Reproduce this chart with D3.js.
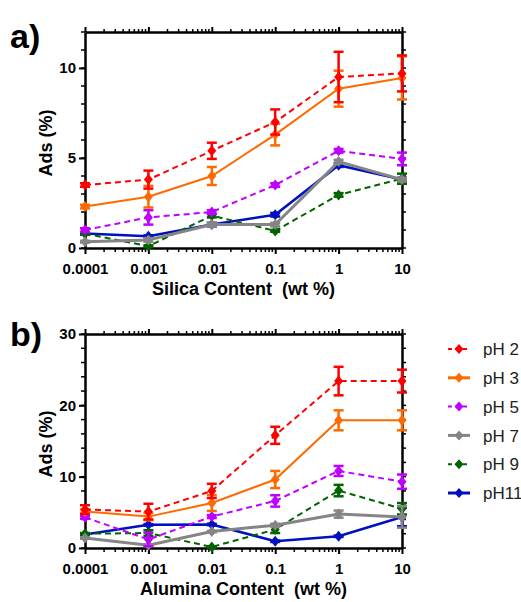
<!DOCTYPE html>
<html>
<head>
<meta charset="utf-8">
<script src="https://cdn.jsdelivr.net/npm/d3@7"></script>
<style>
  body { margin: 0; background: #fff; }
  svg { display: block; font-family: "Liberation Sans", Arial, sans-serif; }
</style>
</head>
<body>
<svg id="chart" width="521" height="602"></svg>
<script>
// concentrations (wt %)
const contents = [0.0001, 0.001, 0.01, 0.1, 1, 10];
const xTickLabels = ["0.0001", "0.001", "0.01", "0.1", "1", "10"];
const seriesNames = ["pH 2", "pH 3", "pH 5", "pH 7", "pH 9", "pH11"];

// panel a) silica
const silicaPH2 = [3.5, 3.8, 5.4, 7.0, 9.5, 9.7];
const silicaPH2Err = [0.1, 0.5, 0.45, 0.7, 1.4, 1.0];
const silicaPH3 = [2.3, 2.85, 4.0, 6.3, 8.85, 9.45];
const silicaPH3Err = [0.1, 0.6, 0.5, 0.6, 1.0, 1.2];
const silicaPH5 = [1.0, 1.7, 2.0, 3.5, 5.4, 4.95];
const silicaPH5Err = [0.1, 0.4, 0.1, 0.1, 0.1, 0.35];
const silicaPH7 = [0.35, 0.45, 1.3, 1.3, 4.8, 3.8];
const silicaPH7Err = [0.05, 0.1, 0.1, 0.1, 0.1, 0.1];
const silicaPH9 = [0.8, 0.1, 1.8, 0.95, 2.95, 3.85];
const silicaPH9Err = [0.05, 0.05, 0.1, 0.05, 0.1, 0.28];
const silicaPH11 = [0.8, 0.65, 1.3, 1.85, 4.6, 3.8];
const silicaPH11Err = [0.05, 0.05, 0.1, 0.1, 0.1, 0.1];

// panel b) alumina
const aluminaPH2 = [5.4, 5.1, 8.0, 15.8, 23.4, 23.4];
const aluminaPH2Err = [0.6, 1.1, 1.0, 1.2, 2.0, 1.6];
const aluminaPH3 = [5.1, 4.4, 6.3, 9.6, 17.9, 17.9];
const aluminaPH3Err = [0.3, 0.5, 1.1, 1.2, 1.4, 1.4];
const aluminaPH5 = [4.3, 1.2, 4.4, 6.6, 10.8, 9.3];
const aluminaPH5Err = [0.2, 0.95, 0.2, 0.8, 0.7, 1.0];
const aluminaPH7 = [1.4, 0.4, 2.3, 3.2, 4.75, 4.35];
const aluminaPH7Err = [0.1, 0.1, 0.1, 0.2, 0.5, 1.5];
const aluminaPH9 = [2.0, 2.1, 0.15, 2.6, 8.05, 5.5];
const aluminaPH9Err = [0.1, 0.4, 0.1, 0.5, 0.8, 0.8];
const aluminaPH11 = [1.9, 3.25, 3.3, 0.95, 1.65, 4.35];
const aluminaPH11Err = [0.1, 0.1, 0.1, 0.1, 0.1, 1.3];

const colors = ["#ff0000", "#ff6a00", "#bf00ff", "#858585", "#006400", "#0010c0"];
const dashed = [true, false, true, false, true, false];
const widths = [2, 2, 2, 3, 2, 2.5];

const svg = d3.select("#chart");

function drawPanel(opts) {
  const { top, bottom, yMax, yMajor, yMinor, values, errors, title, label, labelY } = opts;
  const left = 85, right = 402;
  const x = d3.scaleLog().domain([0.0001, 10]).range([left, right]);
  const y = d3.scaleLinear().domain([0, yMax]).range([bottom, top]);
  const g = svg.append("g");

  const minorX = [];
  for (let e = -4; e < 1; e++) for (let k = 2; k <= 9; k++) minorX.push(k * Math.pow(10, e));

  // bottom axis
  const bx = g.append("g").attr("transform", `translate(0,${bottom})`)
    .call(d3.axisBottom(x).tickValues(contents).tickFormat((d, i) => xTickLabels[i]).tickSize(6).tickSizeOuter(0));
  bx.append("g").selectAll("line").data(minorX).join("line")
    .attr("x1", d => x(d)).attr("x2", d => x(d)).attr("y1", 0).attr("y2", 4)
    .attr("stroke", "#000").attr("stroke-width", 1.5);
  // top axis (mirror)
  const tx = g.append("g").attr("transform", `translate(0,${top})`)
    .call(d3.axisTop(x).tickValues(contents).tickFormat("").tickSize(5).tickSizeOuter(0));
  tx.append("g").selectAll("line").data(minorX).join("line")
    .attr("x1", d => x(d)).attr("x2", d => x(d)).attr("y1", 0).attr("y2", -3)
    .attr("stroke", "#000").attr("stroke-width", 1.5);

  // left axis
  const ly = g.append("g").attr("transform", `translate(${left},0)`)
    .call(d3.axisLeft(y).tickValues(yMajor).tickSize(6).tickSizeOuter(0));
  ly.append("g").selectAll("line").data(d3.range(0, yMax + 0.001, yMinor)).join("line")
    .attr("x1", 0).attr("x2", -4).attr("y1", d => y(d)).attr("y2", d => y(d))
    .attr("stroke", "#000").attr("stroke-width", 1.5);
  // right axis (mirror)
  const ry = g.append("g").attr("transform", `translate(${right},0)`)
    .call(d3.axisRight(y).tickValues([]).tickSize(0).tickSizeOuter(0));
  ry.append("g").selectAll("line").data(d3.range(0, yMax + 0.001, yMinor)).join("line")
    .attr("x1", 0).attr("x2", 4).attr("y1", d => y(d)).attr("y2", d => y(d))
    .attr("stroke", "#000").attr("stroke-width", 1.5);

  g.selectAll(".domain").attr("stroke", "#000").attr("stroke-width", 2.5);
  g.selectAll(".tick line").attr("stroke", "#000").attr("stroke-width", 2);
  g.selectAll(".tick text").attr("font-size", 15).attr("font-weight", "bold")
    .attr("font-family", "Liberation Sans, Arial, sans-serif").attr("fill", "#000");
  bx.selectAll(".tick text").attr("dy", "1.15em");

  // series, drawn last-first so pH 2 sits on top
  const line = d3.line().x((d, i) => x(contents[i])).y(d => y(d));
  const diamond = "M0,-5.5L4.5,0L0,5.5L-4.5,0Z";
  for (let s = values.length - 1; s >= 0; s--) {
    const sg = g.append("g");
    sg.append("path").datum(values[s]).attr("d", line).attr("fill", "none")
      .attr("stroke", colors[s]).attr("stroke-width", widths[s])
      .attr("stroke-dasharray", dashed[s] ? "6,4" : null);
    const eb = sg.selectAll(".err").data(values[s]).join("g")
      .attr("transform", (d, i) => `translate(${x(contents[i])},0)`);
    eb.append("line").attr("y1", (d, i) => y(d + errors[s][i])).attr("y2", (d, i) => y(d - errors[s][i]))
      .attr("stroke", colors[s]).attr("stroke-width", 2.5);
    eb.append("line").attr("x1", -5).attr("x2", 5)
      .attr("y1", (d, i) => y(d + errors[s][i])).attr("y2", (d, i) => y(d + errors[s][i]))
      .attr("stroke", colors[s]).attr("stroke-width", 2.5);
    eb.append("line").attr("x1", -5).attr("x2", 5)
      .attr("y1", (d, i) => y(d - errors[s][i])).attr("y2", (d, i) => y(d - errors[s][i]))
      .attr("stroke", colors[s]).attr("stroke-width", 2.5);
    sg.selectAll(".pt").data(values[s]).join("path")
      .attr("d", diamond).attr("fill", colors[s])
      .attr("transform", (d, i) => `translate(${x(contents[i])},${y(d)})`);
  }

  // titles
  svg.append("text").attr("x", (left + right) / 2).attr("y", bottom + 47)
    .attr("text-anchor", "middle").attr("font-size", 18).attr("font-weight", "bold")
    .attr("xml:space", "preserve").text(title);
  svg.append("text").attr("transform", `translate(52,${(top + bottom) / 2 + 3}) rotate(-90)`)
    .attr("text-anchor", "middle").attr("font-size", 18).attr("font-weight", "bold")
    .text("Ads (%)");
  svg.append("text").attr("x", 10).attr("y", labelY).attr("font-size", 34)
    .attr("font-weight", "bold").text(label);
}

drawPanel({
  top: 32, bottom: 248, yMax: 12, yMajor: [0, 5, 10], yMinor: 1,
  values: [silicaPH2, silicaPH3, silicaPH5, silicaPH7, silicaPH9, silicaPH11],
  errors: [silicaPH2Err, silicaPH3Err, silicaPH5Err, silicaPH7Err, silicaPH9Err, silicaPH11Err],
  title: "Silica Content  (wt %)", label: "a)", labelY: 48
});
drawPanel({
  top: 334, bottom: 548, yMax: 30, yMajor: [0, 10, 20, 30], yMinor: 2,
  values: [aluminaPH2, aluminaPH3, aluminaPH5, aluminaPH7, aluminaPH9, aluminaPH11],
  errors: [aluminaPH2Err, aluminaPH3Err, aluminaPH5Err, aluminaPH7Err, aluminaPH9Err, aluminaPH11Err],
  title: "Alumina Content  (wt %)", label: "b)", labelY: 346
});

// legend
const legend = svg.append("g").attr("transform", "translate(448,349)");
const rows = legend.selectAll("g").data(seriesNames).join("g")
  .attr("transform", (d, i) => `translate(0,${i * 28.8})`);
rows.append("line").attr("x1", 0).attr("x2", 22)
  .attr("stroke", (d, i) => colors[i]).attr("stroke-width", (d, i) => dashed[i] ? 2 : 3)
  .attr("stroke-dasharray", (d, i) => dashed[i] ? "4,3.5" : null);
rows.append("path").attr("d", "M0,-5L4.5,0L0,5L-4.5,0Z").attr("transform", "translate(11,0)")
  .attr("fill", (d, i) => colors[i]);
rows.append("text").attr("x", 35).attr("dy", "0.36em").attr("font-size", 17)
  .attr("fill", "#222").text(d => d);
</script>
</body>
</html>
